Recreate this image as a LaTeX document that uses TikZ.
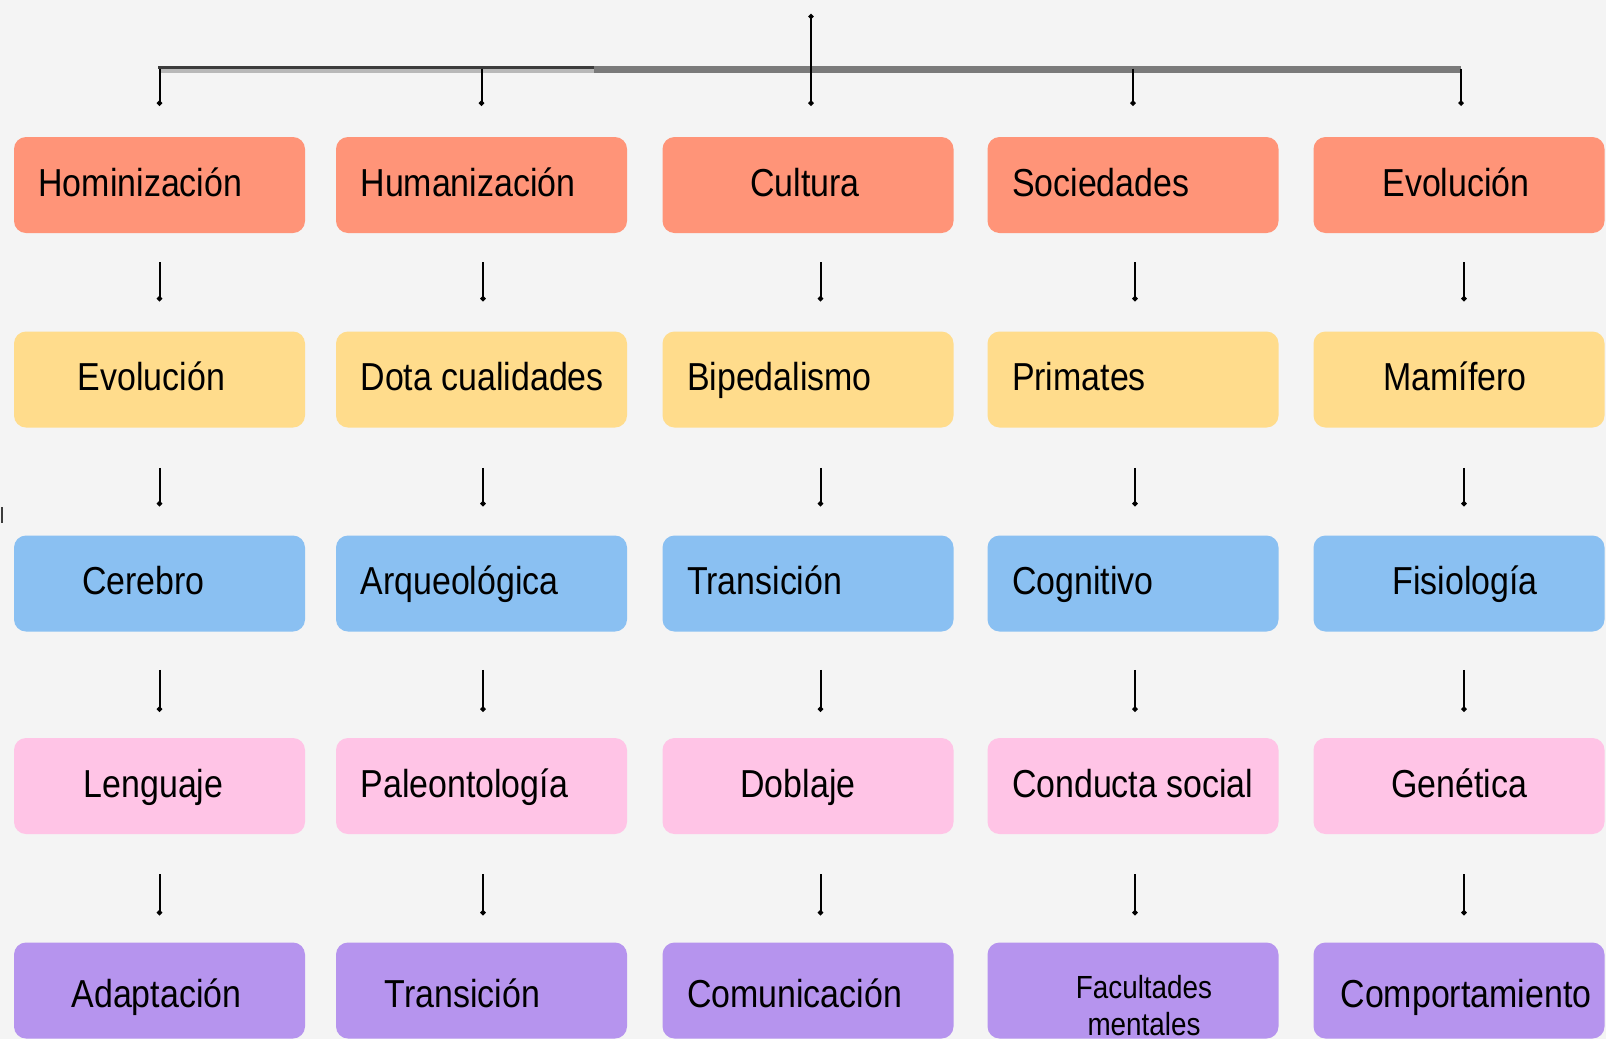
\documentclass[tikz,border=0pt]{standalone}
\usepackage{fontspec}
\setmainfont{Liberation Sans}[FakeStretch=0.87]
\usepackage{tikz}
\usetikzlibrary{arrows.meta}

\definecolor{bg}{HTML}{F4F4F4}
\definecolor{salmon}{HTML}{FF9478}
\definecolor{sand}{HTML}{FFDC8C}
\definecolor{sky}{HTML}{8AC0F2}
\definecolor{rose}{HTML}{FFC4E6}
\definecolor{lilac}{HTML}{B694EE}
\definecolor{busgray}{HTML}{7A7A7A}
\definecolor{buslight}{HTML}{B8B8B8}
\definecolor{busdark}{HTML}{3C3C3C}

\newcommand{\lefttxt}[1]{\makebox[121pt][l]{#1}}
\newcommand{\shtxt}[2]{\hspace*{#1pt}#2}

\tikzset{
  box/.style={rounded corners=6pt, minimum width=145.5pt, minimum height=48pt, inner sep=0pt,
    font=\fontsize{19.5}{23}\selectfont, text height=12pt, text depth=1pt},
  r1/.style={box, fill=salmon},
  r2/.style={box, fill=sand},
  r3/.style={box, fill=sky},
  r4/.style={box, fill=rose},
  r5/.style={box, fill=lilac, text height=17pt, text depth=0.5pt},
  lnk/.style={line width=1pt, -{Circle[length=2.5pt]}},
}

\begin{document}
\begin{tikzpicture}[x=0.5pt,y=-0.5pt]
    \fill[bg] (0,0) rectangle (1606,1039);
    % row 1
    \node[r1] (hom) at (159.5,185) {\lefttxt{Hominización}};
    \node[r1] (hum) at (481.5,185) {\lefttxt{Humanización}};
    \node[r1] (cul) at (808,185) {\shtxt{-3}{Cultura}};
    \node[r1] (soc) at (1133,185) {\lefttxt{Sociedades}};
    \node[r1] (evo) at (1459,185) {\shtxt{-3}{Evolución}};
    % row 2
    \node[r2] (evol) at (159.5,379.5) {\shtxt{-8}{Evolución}};
    \node[r2] (dota) at (481.5,379.5) {\lefttxt{Dota cualidades}};
    \node[r2] (biped) at (808,379.5) {\lefttxt{Bipedalismo}};
    \node[r2] (prim) at (1133,379.5) {\lefttxt{Primates}};
    \node[r2] (mam) at (1459,379.5) {\shtxt{-4}{Mamífero}};
    % row 3
    \node[r3] (cer) at (159.5,583.5) {\shtxt{-16}{Cerebro}};
    \node[r3] (arq) at (481.5,583.5) {\lefttxt{Arqueológica}};
    \node[r3] (trans) at (808,583.5) {\lefttxt{Transición}};
    \node[r3] (cog) at (1133,583.5) {\lefttxt{Cognitivo}};
    \node[r3] (fis) at (1459,583.5) {\shtxt{6}{Fisiología}};
    % row 4
    \node[r4] (len) at (159.5,786) {\shtxt{-6}{Lenguaje}};
    \node[r4] (pal) at (481.5,786) {\lefttxt{Paleontología}};
    \node[r4] (dob) at (808,786) {\shtxt{-10}{Doblaje}};
    \node[r4] (cond) at (1133,786) {\lefttxt{Conducta social}};
    \node[r4] (gen) at (1459,786) {Genética};
    % row 5
    \node[r5] (adap) at (159.5,990.5) {\shtxt{-3}{Adaptación}};
    \node[r5] (transi) at (481.5,990.5) {\shtxt{-19}{Transición}};
    \node[r5] (com) at (808,990.5) {\lefttxt{Comunicación}};
    \node[r5, text height=8pt, text depth=0.5pt] (fac) at (1133,990.5)
        {\hspace*{11pt}\fontsize{16}{18.5}\selectfont\begin{tabular}[t]{@{}c@{}}Facultades\\mentales\end{tabular}};
    \node[r5] (comp) at (1459,990.5) {\shtxt{7}{Comportamiento}};

    % top bar
    \coordinate (root) at (811,14);
    \draw[line width=2pt, buslight] (159,71) -- (594,71);
    \draw[line width=3.5pt, busgray] (594,69.5) -- (1461,69.5);
    \draw[line width=1.5pt, busdark] (158,67.5) -- (594,67.5);
    \draw[lnk, {Circle[length=2.5pt]}-{Circle[length=2.5pt]}] (root) -- ([xshift=1.5pt,yshift=15.5pt]cul.north);
    \foreach \n/\dx in {hom/0pt, hum/0pt, soc/0pt, evo/1pt}
        \draw[lnk] ([xshift=\dx,yshift=34pt]\n.north) -- ([xshift=\dx,yshift=15.5pt]\n.north);

    % arrows between rows
    \foreach \up/\dn/\dx in {hom/evol/0pt, hum/dota/0.75pt, cul/biped/6.25pt, soc/prim/1pt, evo/mam/2.5pt}
        \draw[lnk, shorten <=14.5pt, shorten >=15pt] ([xshift=\dx]\up.south) -- ([xshift=\dx]\dn.north);
    \foreach \up/\dn/\dx in {evol/cer/0pt, dota/arq/0.75pt, biped/trans/6.25pt, prim/cog/1pt, mam/fis/2.5pt}
        \draw[lnk, shorten <=20pt, shorten >=14.5pt] ([xshift=\dx]\up.south) -- ([xshift=\dx]\dn.north);
    \foreach \up/\dn/\dx in {cer/len/0pt, arq/pal/0.75pt, trans/dob/6.25pt, cog/cond/1pt, fis/gen/2.5pt}
        \draw[lnk, shorten <=19pt, shorten >=13pt] ([xshift=\dx]\up.south) -- ([xshift=\dx]\dn.north);
    \foreach \up/\dn/\dx in {len/adap/0pt, pal/transi/0.75pt, dob/com/6.25pt, cond/fac/1pt, gen/comp/2.5pt}
        \draw[lnk, shorten <=20pt, shorten >=13.5pt] ([xshift=\dx]\up.south) -- ([xshift=\dx]\dn.north);

    % stray tick
    \draw[line width=1pt, busdark] (2,507) -- (2,523);
\end{tikzpicture}
\end{document}
